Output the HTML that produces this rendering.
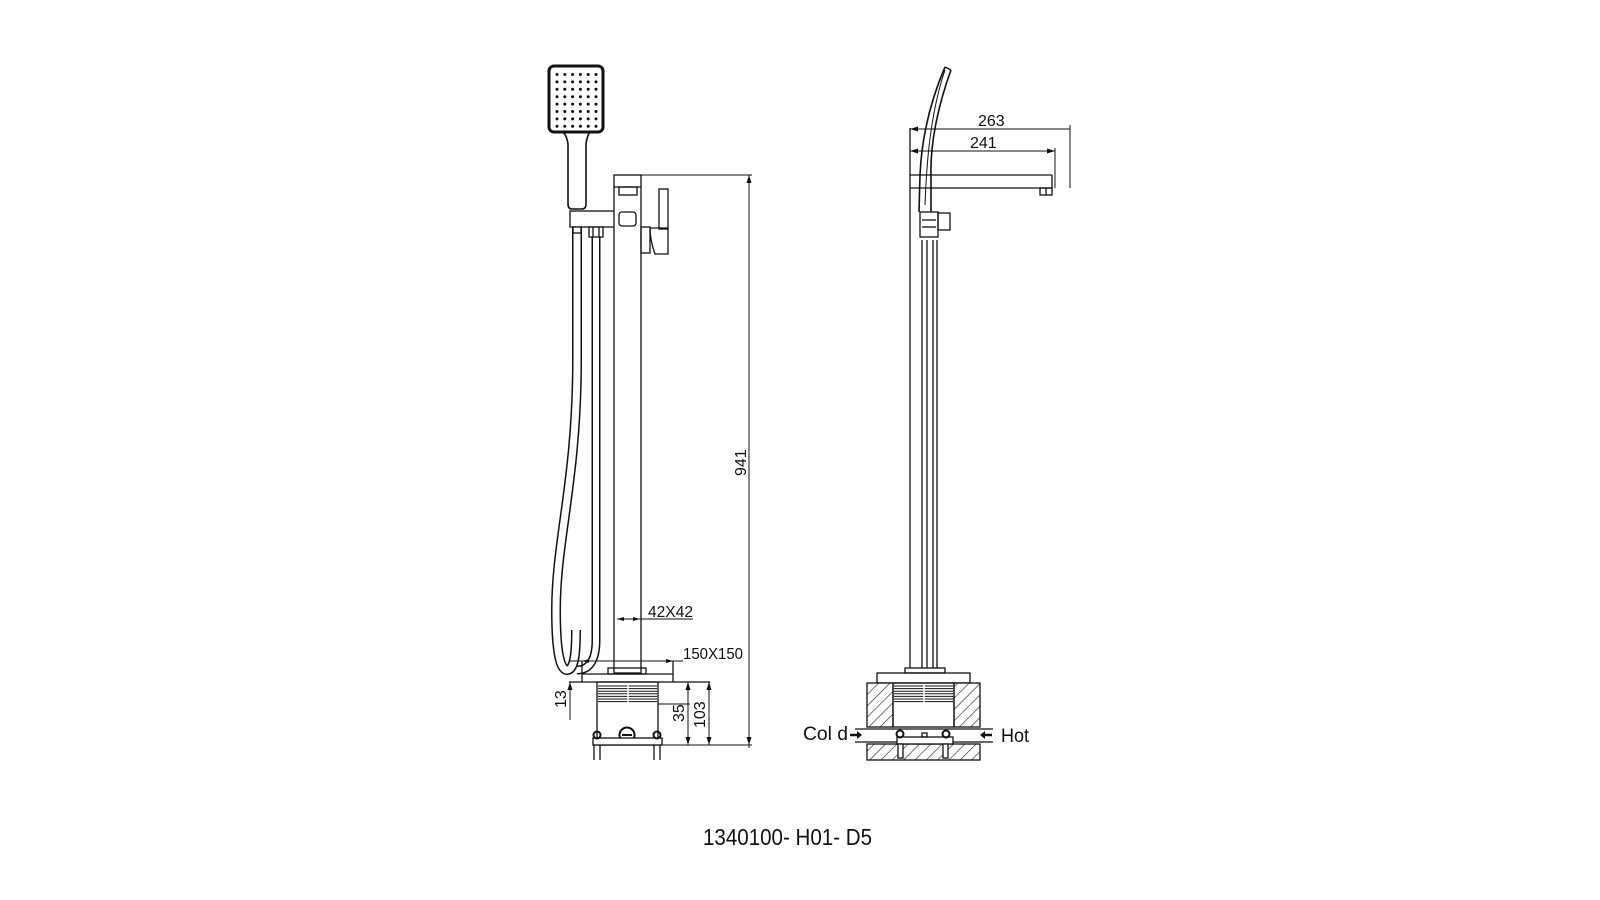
<!DOCTYPE html>
<html><head><meta charset="utf-8"><style>html,body{margin:0;padding:0;background:#fff}svg{display:block}</style></head>
<body>
<svg width="1600" height="900" viewBox="0 0 1600 900" xmlns="http://www.w3.org/2000/svg" font-family="Liberation Sans, sans-serif">
<defs>
<pattern id="h" width="8" height="8" patternUnits="userSpaceOnUse" patternTransform="rotate(45)">
<rect width="8" height="8" fill="#fff"/><line x1="0" y1="0" x2="0" y2="8" stroke="#222" stroke-width="1.2"/></pattern>
</defs>
<g fill="none" stroke="#111" stroke-width="1.3">
<rect x="549" y="66" width="54" height="66" rx="5" stroke-width="3"/>
<g fill="#111" stroke="none" id="dots"></g>
<path d="M563 132 Q567 136 568 144 L568 204 Q568 209 572 209 L582 209 Q586 209 586 204 L586 144 Q587 136 590 132" stroke-width="1.6"/>
<rect x="570" y="211" width="45" height="16"/>
<path d="M577 227 L577 360 C577 480 556 540 556 610 C556 660 562 670 567 670 C574 670 576 655 576 630" stroke-width="10"/>
<path d="M577 227 L577 360 C577 480 556 540 556 610 C556 660 562 670 567 670 C574 670 576 655 576 630" stroke="#fff" stroke-width="7"/>
<path d="M596 237 L596 640 C596 662 588 670 577 670" stroke-width="9"/>
<path d="M596 237 L596 640 C596 662 588 670 577 670" stroke="#fff" stroke-width="6"/>
<rect x="589" y="227" width="14" height="10" fill="#fff"/>
<line x1="593" y1="227" x2="593" y2="237"/><line x1="599" y1="227" x2="599" y2="237"/>
<rect x="573" y="227" width="8" height="6" fill="#fff"/>
<rect x="614" y="175" width="27" height="498" fill="#fff"/>
<line x1="614" y1="187" x2="641" y2="187"/>
<rect x="619" y="187" width="18" height="8"/>
<rect x="619" y="212" width="17" height="14" rx="3"/>
<rect x="608" y="668" width="38" height="6"/>
<rect x="659" y="189" width="9" height="40"/>
<path d="M650 228 L668 228 L668 254 L655 254 Q650 240 650 228 Z"/>
<rect x="641" y="227" width="9" height="26"/>
<line x1="582" y1="661" x2="582" y2="682"/><line x1="673" y1="661" x2="673" y2="682"/>
<line x1="582" y1="674" x2="673" y2="674"/>
<line x1="569" y1="682" x2="710" y2="682"/>
<rect x="597" y="682" width="61" height="63"/>
<g stroke-width="1" id="ribs1"></g>
<line x1="628" y1="683" x2="628" y2="704" stroke="#fff" stroke-width="1.5"/>
<circle cx="627" cy="735" r="7.5" stroke-width="2"/><line x1="622" y1="735" x2="632" y2="735" stroke-width="2"/>
<rect x="593" y="738" width="69" height="7" fill="#fff"/>
<circle cx="597" cy="735" r="3.5" stroke-width="2"/><circle cx="657" cy="735" r="3.5" stroke-width="2"/>
<path d="M594 745 L594 760 M600 745 L600 760 M654 745 L654 760 M660 745 L660 760"/>
<g stroke-width="1">
<line x1="641" y1="175" x2="752" y2="175"/>
<line x1="749" y1="175" x2="749" y2="748"/>
<line x1="658" y1="745" x2="752" y2="745"/>
<line x1="617" y1="619" x2="640" y2="619"/>
<line x1="640" y1="619" x2="693" y2="619"/>
<line x1="570" y1="661" x2="673" y2="661"/>
<line x1="673" y1="661" x2="683" y2="661"/>
<line x1="570" y1="682" x2="570" y2="720"/>
<line x1="688" y1="682" x2="688" y2="745"/>
<line x1="709" y1="682" x2="709" y2="745"/>
<line x1="658" y1="704" x2="690" y2="704"/>
</g>
<g fill="#111" stroke="none">
<path d="M749 175 l-2.5 8 h5z M749 745 l-2.5 -8 h5z M617 619 l7 -2 v4z M640 619 l-7 -2 v4z M582 661 l7 -2 v4z M673 661 l-7 -2 v4z M570 682 l-2.5 8 h5z M688 682 l-2.5 8 h5z M688 745 l-2.5 -8 h5z M709 682 l-2.5 8 h5z M709 745 l-2.5 -8 h5z"/>
</g>
<path d="M910 128 L910 668"/>
<line x1="922" y1="240" x2="922" y2="668"/><line x1="927" y1="240" x2="927" y2="668"/>
<line x1="933" y1="240" x2="933" y2="668"/><line x1="937" y1="240" x2="937" y2="668"/>
<line x1="910" y1="175" x2="1052" y2="175"/><line x1="910" y1="188" x2="1052" y2="188"/>
<line x1="1052" y1="175" x2="1052" y2="188"/>
<rect x="1040" y="188" width="12" height="7"/>
<line x1="1046" y1="188" x2="1046" y2="195"/>
<path d="M945 67 C933 95 922 130 920 175 L919 212 M951 70 C940 100 930 140 931 175 L931 212" stroke-width="1.6"/>
<path d="M945 67 L951 70"/>
<path d="M925 205 C926 180 928 120 945 70" stroke-width="1"/>
<rect x="920" y="212" width="18" height="25"/>
<line x1="922" y1="220" x2="936" y2="220"/><line x1="922" y1="227" x2="936" y2="227"/>
<rect x="938" y="213" width="12" height="17"/>
<g stroke-width="1">
<line x1="910" y1="129" x2="1070" y2="129"/>
<line x1="1070" y1="125" x2="1070" y2="188"/>
<line x1="910" y1="151" x2="1055" y2="151"/>
<line x1="1055" y1="148" x2="1055" y2="188"/>
</g>
<path d="M910 129 l8 -2.5 v5z M910 151 l8 -2.5 v5z M1055 151 l-8 -2.5 v5z" fill="#111" stroke="none"/>
<rect x="905" y="668" width="40" height="5" fill="#fff"/>
<rect x="877" y="673" width="93" height="10"/>
<rect x="867" y="683" width="26" height="44" fill="url(#h)"/>
<rect x="954" y="683" width="26" height="44" fill="url(#h)"/>
<rect x="893" y="683" width="61" height="44"/>
<g stroke-width="1" id="ribs2"></g>
<line x1="924" y1="684" x2="924" y2="704" stroke="#fff" stroke-width="1.5"/>
<line x1="855" y1="729" x2="993" y2="729"/><line x1="855" y1="742" x2="993" y2="742"/>
<rect x="867" y="744" width="113" height="16" fill="url(#h)"/>
<rect x="897" y="737" width="56" height="7" fill="#fff"/>
<rect x="922" y="733" width="5" height="4"/>
<circle cx="900" cy="734" r="3.5" stroke-width="2"/><circle cx="946" cy="734" r="3.5" stroke-width="2"/>
<rect x="898" y="744" width="5" height="14" fill="#fff"/><rect x="943" y="744" width="5" height="14" fill="#fff"/>
<path d="M850 735 h8 M992 735 h-8" stroke-width="2.5"/>
<path d="M862 735 l-5 -4 v8z M980 735 l5 -4 v8z" fill="#111" stroke="none"/>
</g>
<g fill="#111" font-size="16">
<text x="648" y="617" textLength="45" lengthAdjust="spacingAndGlyphs">42X42</text>
<text x="683" y="659" textLength="60" lengthAdjust="spacingAndGlyphs">150X150</text>
<text transform="translate(566,708) rotate(-90)">13</text>
<text transform="translate(684,722) rotate(-90)">35</text>
<text transform="translate(705,728) rotate(-90)">103</text>
<text transform="translate(746,476) rotate(-90)">941</text>
<text x="978" y="126">263</text>
<text x="970" y="148">241</text>
<text x="803" y="740" font-size="19" textLength="45" lengthAdjust="spacingAndGlyphs">Col d</text>
<text x="1001" y="742" font-size="19" textLength="28" lengthAdjust="spacingAndGlyphs">Hot</text>
<text x="703" y="845" font-size="23" textLength="169" lengthAdjust="spacingAndGlyphs">1340100- H01- D5</text>
</g>
<script>
var ns="http://www.w3.org/2000/svg",d=document.getElementById("dots");
for(var r=0;r<8;r++)for(var c=0;c<6;c++){var e=document.createElementNS(ns,"circle");e.setAttribute("cx",557+c*7.8);e.setAttribute("cy",74.5+r*7.4);e.setAttribute("r",1.5);d.appendChild(e);}
function ribs(id,x1,x2){var g=document.getElementById(id);for(var y=686;y<=704;y+=2.6){var l=document.createElementNS(ns,"line");l.setAttribute("x1",x1);l.setAttribute("x2",x2);l.setAttribute("y1",y);l.setAttribute("y2",y);g.appendChild(l);}}
ribs("ribs1",598,657);ribs("ribs2",894,953);
</script>
</svg>
</body></html>
